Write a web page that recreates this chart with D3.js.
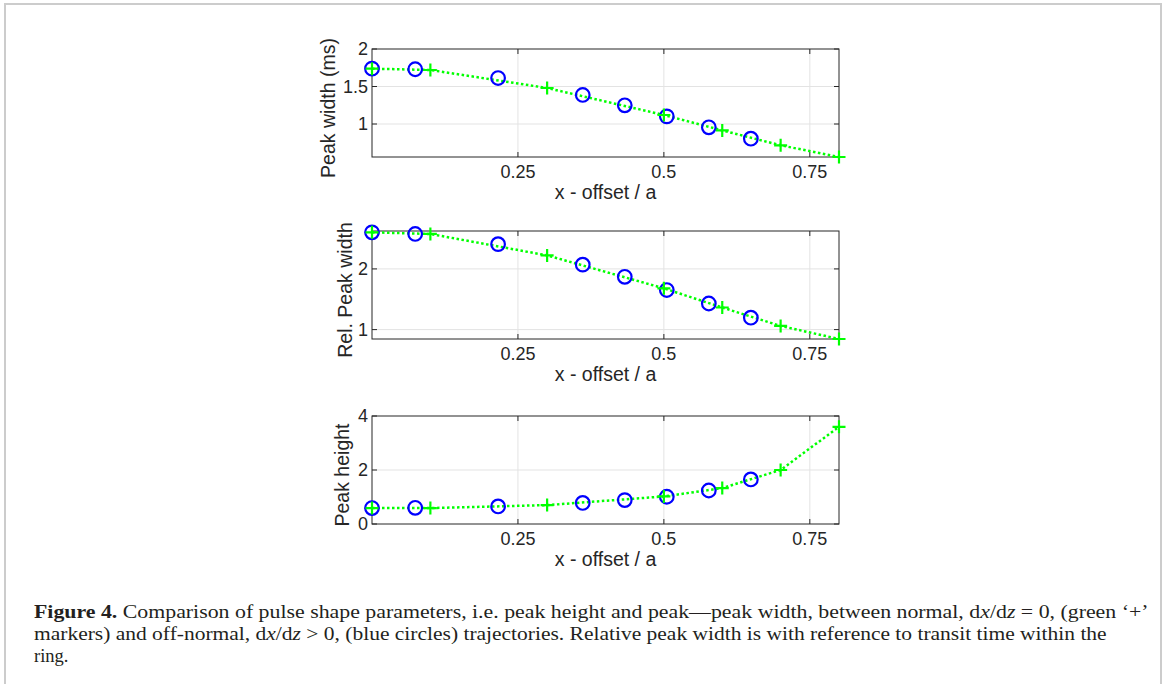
<!DOCTYPE html>
<html>
<head>
<meta charset="utf-8">
<script src="https://cdn.jsdelivr.net/npm/d3@7"></script>
<style>
  body { margin: 0; background: #fff; }
  svg { display: block; }
</style>
</head>
<body>
<script>
// x positions (offset / a)
const xPlus = [0, 0.1, 0.3, 0.5, 0.6, 0.7, 0.8];
const xCirc = [0, 0.074, 0.216, 0.361, 0.433, 0.505, 0.577, 0.649];

// peak width (ms)
const widthPlus = [1.738, 1.72, 1.48, 1.12, 0.915, 0.716, 0.56];
const widthCirc = [1.738, 1.73, 1.613, 1.387, 1.249, 1.102, 0.956, 0.804];

// relative peak width
const relPlus = [2.603, 2.576, 2.223, 1.68, 1.364, 1.06, 0.845];
const relCirc = [2.603, 2.576, 2.408, 2.07, 1.87, 1.652, 1.43, 1.196];

// peak height
const heightPlus = [0.59, 0.59, 0.7, 1.02, 1.33, 2.0, 3.6];
const heightCirc = [0.59, 0.6, 0.65, 0.78, 0.886, 1.01, 1.24, 1.65];

const xTicks = [0.25, 0.5, 0.75];
const xTickLabels = ["0.25", "0.5", "0.75"];
const xLabel = "x - offset / a";

const yLabels = ["Peak width (ms)", "Rel. Peak width", "Peak height"];
const yDomains = [[0.56, 2], [0.845, 2.625], [0, 4]];
const yTicks = [[1, 1.5, 2], [1, 2], [0, 2, 4]];

const W = 1166, H = 684;
const axisCol = "#262626";
const gridCol = "#e3e3e3";

const svg = d3.select("body").append("svg")
  .attr("width", W).attr("height", H);

// figure frame
svg.append("rect")
  .attr("x", 5).attr("y", 4)
  .attr("width", 1156).attr("height", 700)
  .attr("fill", "none")
  .attr("stroke", "#cccccc")
  .attr("stroke-width", 2);

const left = 372, right = 839, ph = 108;
const tops = [49, 231, 416];
const labelX = [335, 352, 349];

const panels = [
  { plus: widthPlus, circ: widthCirc },
  { plus: relPlus, circ: relCirc },
  { plus: heightPlus, circ: heightCirc },
];

const x = d3.scaleLinear().domain([0, 0.8]).range([left, right]);

panels.forEach((p, i) => {
  const top = tops[i], bottom = top + ph;
  const y = d3.scaleLinear().domain(yDomains[i]).range([bottom, top]);
  const g = svg.append("g");

  // white plot area
  g.append("rect")
    .attr("x", left).attr("y", top)
    .attr("width", right - left).attr("height", ph)
    .attr("fill", "#fff");

  // grid
  g.selectAll(".gx").data(xTicks).join("line")
    .attr("x1", d => x(d)).attr("x2", d => x(d))
    .attr("y1", top).attr("y2", bottom)
    .attr("stroke", gridCol).attr("stroke-width", 1);
  g.selectAll(".gy").data(yTicks[i].filter(d => y(d) > top + 1 && y(d) < bottom - 1)).join("line")
    .attr("x1", left).attr("x2", right)
    .attr("y1", d => y(d)).attr("y2", d => y(d))
    .attr("stroke", gridCol).attr("stroke-width", 1);

  // inward tick marks on all four sides
  const tl = 5;
  xTicks.forEach(t => {
    g.append("line").attr("x1", x(t)).attr("x2", x(t))
      .attr("y1", bottom).attr("y2", bottom - tl).attr("stroke", axisCol);
    g.append("line").attr("x1", x(t)).attr("x2", x(t))
      .attr("y1", top).attr("y2", top + tl).attr("stroke", axisCol);
  });
  yTicks[i].forEach(t => {
    g.append("line").attr("x1", left).attr("x2", left + tl)
      .attr("y1", y(t)).attr("y2", y(t)).attr("stroke", axisCol);
    g.append("line").attr("x1", right).attr("x2", right - tl)
      .attr("y1", y(t)).attr("y2", y(t)).attr("stroke", axisCol);
  });

  // box
  g.append("rect")
    .attr("x", left).attr("y", top)
    .attr("width", right - left).attr("height", ph)
    .attr("fill", "none").attr("stroke", axisCol).attr("stroke-width", 1);

  // tick labels
  g.selectAll(".xt").data(xTicks).join("text")
    .attr("x", d => x(d)).attr("y", bottom + 21)
    .attr("text-anchor", "middle")
    .attr("font-family", "Liberation Sans, Arial, sans-serif")
    .attr("font-size", 18).attr("fill", axisCol)
    .text((d, k) => xTickLabels[k]);
  g.selectAll(".yt").data(yTicks[i]).join("text")
    .attr("x", left - 4).attr("y", d => y(d))
    .attr("dy", "0.35em")
    .attr("text-anchor", "end")
    .attr("font-family", "Liberation Sans, Arial, sans-serif")
    .attr("font-size", 18).attr("fill", axisCol)
    .text(d => d);

  // axis labels
  g.append("text")
    .attr("x", (left + right) / 2).attr("y", bottom + 42)
    .attr("text-anchor", "middle")
    .attr("font-family", "Liberation Sans, Arial, sans-serif")
    .attr("font-size", 19.5).attr("fill", axisCol)
    .text(xLabel);
  g.append("text")
    .attr("transform", `translate(${labelX[i]},${top + ph / 2 + 5}) rotate(-90)`)
    .attr("text-anchor", "middle")
    .attr("font-family", "Liberation Sans, Arial, sans-serif")
    .attr("font-size", 19.5).attr("fill", axisCol)
    .text(yLabels[i]);

  // green dotted line with + markers
  const line = d3.line().x(d => x(d[0])).y(d => y(d[1]));
  const plusPts = xPlus.map((v, k) => [v, p.plus[k]]);
  g.append("path")
    .attr("d", line(plusPts))
    .attr("fill", "none")
    .attr("stroke", "#00ff00")
    .attr("stroke-width", 2.5)
    .attr("stroke-dasharray", "2.5,2.5");

  // blue circles
  g.selectAll(".c").data(xCirc.map((v, k) => [v, p.circ[k]])).join("circle")
    .attr("cx", d => x(d[0])).attr("cy", d => y(d[1]))
    .attr("r", 6.8)
    .attr("fill", "none")
    .attr("stroke", "#0000ff")
    .attr("stroke-width", 2.2);

  const s = 6.5;
  g.selectAll(".p").data(plusPts).join("path")
    .attr("d", d => {
      const cx = x(d[0]), cy = y(d[1]);
      return `M${cx - s},${cy}H${cx + s}M${cx},${cy - s}V${cy + s}`;
    })
    .attr("stroke", "#00ff00")
    .attr("stroke-width", 2.2);
});

// caption
const capFont = "Liberation Serif, Times New Roman, serif";
const capCol = "#231f20";
const capX = 34;

function capLine(yPos, parts, targetW) {
  const t = svg.append("text")
    .attr("x", capX).attr("y", yPos)
    .attr("font-family", capFont)
    .attr("font-size", 18.5)
    .attr("fill", capCol);
  parts.forEach(([txt, style]) => {
    const ts = t.append("tspan").text(txt);
    if (style === "b") ts.attr("font-weight", "bold");
    if (style === "i") ts.attr("font-style", "italic");
  });
  if (targetW) {
    const w = t.node().getComputedTextLength();
    const sx = targetW / w;
    t.attr("transform", `translate(${capX},0) scale(${sx},1) translate(${-capX},0)`);
  }
}

capLine(618, [
  ["Figure 4.", "b"],
  [" Comparison of pulse shape parameters, i.e. peak height and peak\u2014peak width, between normal, d"],
  ["x", "i"], ["/d"], ["z", "i"],
  [" = 0, (green \u2018+\u2019"]
], 1115);
capLine(640, [
  ["markers) and off-normal, d"],
  ["x", "i"], ["/d"], ["z", "i"],
  [" > 0, (blue circles) trajectories. Relative peak width is with reference to transit time within the"]
], 1073);
capLine(662, [["ring."]]);
</script>
</body>
</html>
